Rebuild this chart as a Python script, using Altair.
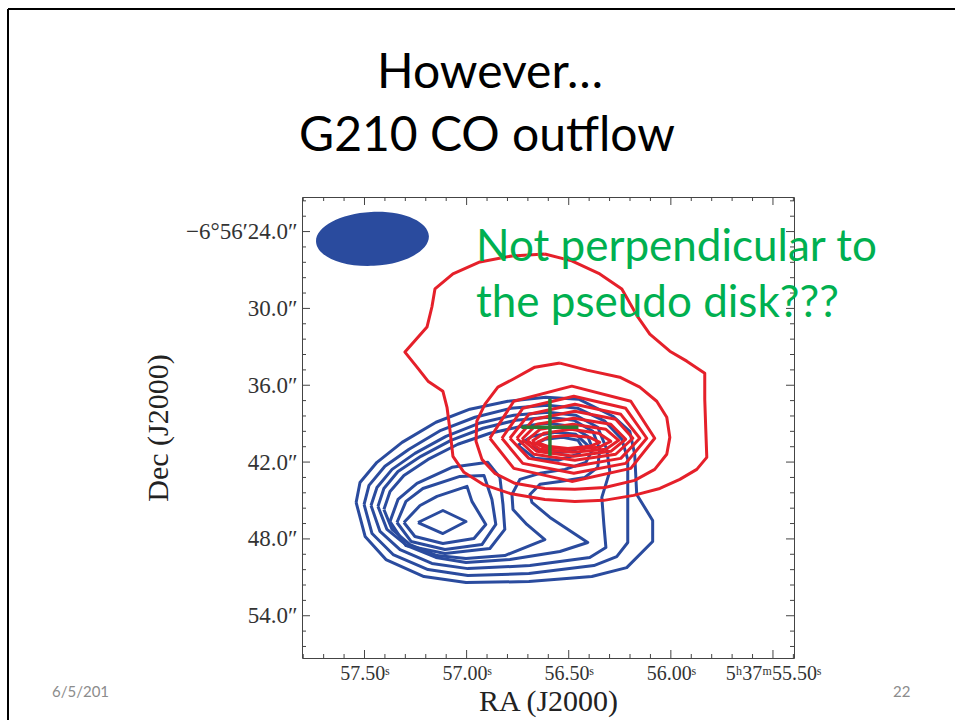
import altair as alt
import pandas as pd

# ---------------- contour vertices (RA: seconds of 5h37m, Dec: arcsec of -6d56m) ----------------
# red (redshifted) contours, outer -> inner
red_outer_ra = [56.617, 56.485, 56.348, 56.240, 56.162, 56.103, 56.005, 55.922, 55.834, 55.834, 55.829, 55.824,
                55.873, 55.956, 56.054, 56.182, 56.328, 56.470, 56.617, 56.788, 56.920, 57.013, 57.067, 57.082,
                57.096, 57.116, 57.189, 57.243, 57.302, 57.194, 57.170, 57.155, 57.067, 56.935, 56.778, 56.617]
red_outer_dec = [25.75, 26.29, 27.31, 28.48, 30.67, 32.00, 33.34, 34.12, 35.06, 37.09, 39.44, 41.63,
                 42.57, 43.35, 44.06, 44.60, 44.99, 45.07, 44.92, 44.45, 43.74, 42.80, 41.55, 39.44,
                 37.72, 36.47, 35.68, 34.59, 33.41, 31.46, 29.89, 28.48, 27.31, 26.37, 25.90, 25.75]
red_c2_ra = [56.543, 56.411, 56.250, 56.152, 56.069, 56.020, 56.005, 56.020, 56.079, 56.177, 56.323, 56.470,
             56.617, 56.764, 56.862, 56.925, 56.954, 56.950, 56.910, 56.847, 56.773, 56.666, 56.543]
red_c2_dec = [34.27, 34.82, 35.37, 36.15, 37.25, 38.50, 40.07, 41.39, 42.57, 43.43, 43.98, 44.13,
              44.06, 43.66, 42.88, 41.79, 40.38, 38.81, 37.48, 36.15, 35.53, 34.59, 34.27]
red_c3_ra = [56.886, 56.769, 56.485, 56.196, 56.079, 56.196, 56.485, 56.769, 56.886]
red_c3_dec = [40.14, 37.25, 36.07, 37.25, 40.14, 42.49, 43.51, 42.49, 40.14]
red_c4_ra = [56.827, 56.725, 56.475, 56.221, 56.118, 56.221, 56.475, 56.725, 56.827]
red_c4_dec = [40.14, 37.80, 36.86, 37.80, 40.14, 42.10, 42.88, 42.10, 40.14]
red_c5_ra = [56.788, 56.695, 56.470, 56.245, 56.152, 56.245, 56.470, 56.695, 56.788]
red_c5_dec = [40.14, 38.27, 37.48, 38.27, 40.14, 41.71, 42.33, 41.71, 40.14]
red_c6_ra = [56.754, 56.671, 56.470, 56.270, 56.186, 56.270, 56.470, 56.671, 56.754]
red_c6_dec = [40.14, 38.66, 38.03, 38.66, 40.14, 41.39, 41.86, 41.39, 40.14]
red_c7_ra = [56.729, 56.656, 56.475, 56.294, 56.221, 56.294, 56.475, 56.656, 56.729]
red_c7_dec = [40.22, 39.05, 38.58, 39.05, 40.22, 41.16, 41.55, 41.16, 40.22]
red_c8_ra = [56.705, 56.641, 56.480, 56.318, 56.255, 56.318, 56.480, 56.641, 56.705]
red_c8_dec = [40.30, 39.44, 39.05, 39.44, 40.30, 41.00, 41.24, 41.00, 40.30]
red_c9_ra = [56.680, 56.622, 56.490, 56.353, 56.294, 56.353, 56.490, 56.622, 56.680]
red_c9_dec = [40.38, 39.75, 39.44, 39.75, 40.38, 40.85, 41.00, 40.85, 40.38]
red_c10_ra = [56.656, 56.602, 56.504, 56.397, 56.348, 56.397, 56.504, 56.602, 56.656]
red_c10_dec = [40.46, 40.07, 39.91, 40.07, 40.46, 40.77, 40.93, 40.77, 40.46]

# blue (blueshifted) contours
blue_b1_ra = [57.541, 57.522, 57.439, 57.316, 57.150, 56.984, 56.798, 56.612, 56.451, 56.284, 56.201, 56.177,
              56.167, 56.089, 56.089, 56.216, 56.387, 56.695, 57.003, 57.209, 57.395, 57.497, 57.541]
blue_b1_dec = [45.15, 43.59, 42.02, 40.46, 38.89, 37.87, 37.25, 36.93, 37.09, 38.42, 39.60, 41.39,
               44.53, 46.56, 48.20, 50.24, 50.94, 51.33, 51.41, 50.94, 49.61, 47.81, 45.15]
blue_b2_ra = [57.502, 57.478, 57.400, 57.282, 57.126, 56.959, 56.783, 56.607, 56.455, 56.323, 56.240, 56.211,
              56.211, 56.211, 56.265, 56.377, 56.695, 56.994, 57.189, 57.360, 57.463, 57.502]
blue_b2_dec = [45.31, 43.82, 42.33, 41.00, 39.52, 38.50, 37.80, 37.56, 37.80, 38.81, 40.22, 41.79,
               44.92, 48.28, 49.38, 50.08, 50.71, 50.86, 50.39, 49.22, 47.58, 45.31]
blue_b3_ra = [57.468, 57.439, 57.365, 57.253, 57.101, 56.940, 56.769, 56.602, 56.465, 56.358, 56.314, 56.299,
              56.338, 56.328, 56.318, 56.397, 56.690, 56.994, 57.170, 57.326, 57.424, 57.468]
blue_b3_dec = [45.39, 43.98, 42.57, 41.32, 39.99, 38.97, 38.34, 38.11, 38.34, 39.28, 41.00, 42.73,
               44.76, 46.87, 48.67, 49.45, 50.08, 50.32, 49.92, 48.83, 47.42, 45.39]
blue_b4_ra = [57.434, 57.405, 57.336, 57.224, 57.077, 56.920, 56.759, 56.602, 56.475, 56.382, 56.348, 56.358,
              56.421, 56.543, 56.641, 56.690, 56.680, 56.592, 56.407, 56.543, 56.788, 57.003, 57.150, 57.292,
              57.390, 57.434]
blue_b4_dec = [45.46, 44.06, 42.73, 41.55, 40.30, 39.36, 38.73, 38.50, 38.73, 39.60, 41.00, 42.41,
               43.20, 43.51, 43.74, 44.53, 45.15, 46.32, 48.28, 48.98, 49.61, 49.85, 49.45, 48.52,
               47.26, 45.46]
blue_b5_ra = [57.405, 57.375, 57.307, 57.189, 57.043, 56.886, 56.729, 56.602, 56.490, 56.407, 56.382, 56.416,
              56.519, 56.641, 56.739, 56.778, 56.773, 56.705, 56.617, 56.813, 57.003, 57.145, 57.277, 57.365,
              57.405]
blue_b5_dec = [45.70, 44.29, 43.04, 41.79, 40.61, 39.75, 39.20, 38.97, 39.20, 39.99, 41.00, 42.02,
               42.57, 42.88, 43.35, 44.53, 45.70, 46.87, 48.05, 49.30, 49.53, 49.30, 48.44, 47.26,
               45.70]
blue_w4_ra = [57.375, 57.336, 57.243, 57.072, 56.896, 56.837, 56.822, 56.813, 56.886, 57.106, 57.297, 57.375]
blue_w4_dec = [46.64, 44.92, 43.66, 42.41, 42.02, 43.20, 45.31, 47.26, 48.75, 49.14, 48.52, 46.64]
blue_w3_ra = [57.341, 57.297, 57.214, 57.033, 56.915, 56.876, 56.857, 56.925, 57.106, 57.272, 57.341]
blue_w3_dec = [46.72, 45.07, 44.06, 43.12, 43.04, 44.92, 46.87, 48.44, 48.83, 48.20, 46.72]
blue_w2_ra = [57.307, 57.228, 57.145, 56.998, 56.974, 56.906, 56.964, 57.116, 57.253, 57.307]
blue_w2_dec = [46.72, 45.39, 44.68, 43.90, 45.07, 46.87, 47.97, 48.36, 47.81, 46.72]
blue_w1_ra = [57.238, 57.116, 57.003, 57.116, 57.238]
blue_w1_dec = [46.72, 45.78, 46.64, 47.58, 46.72]
blue_e2_ra = [56.749, 56.680, 56.563, 56.465, 56.407, 56.455, 56.553, 56.666, 56.749]
blue_e2_dec = [40.69, 39.99, 39.67, 39.83, 40.69, 41.39, 41.86, 41.71, 40.69]
blue_e1_ra = [56.680, 56.617, 56.529, 56.455, 56.436, 56.485, 56.568, 56.641, 56.680]
blue_e1_dec = [40.69, 40.22, 40.07, 40.30, 40.77, 41.16, 41.32, 41.16, 40.69]

# beam, source position, annotation
beam_ra = [57.461]
beam_dec = [24.57]
source_ra = [56.592]
source_dec = [39.28]
note_ra = [56.954, 56.954]
note_dec = [26.29, 30.67]
note_text = ["Not perpendicular to", "the pseudo disk???"]

# axis ticks
x_major = [57.5, 57.0, 56.5, 56.0, 55.5]
x_minor = [57.8, 57.7, 57.6, 57.4, 57.3, 57.2, 57.1, 56.9, 56.8, 56.7, 56.6, 56.4, 56.3, 56.2, 56.1,
           55.9, 55.8, 55.7, 55.6, 55.4]
y_major = [24, 30, 36, 42, 48, 54]
y_minor = [21.6, 22.8, 25.2, 26.4, 27.6, 28.8, 31.2, 32.4, 33.6, 34.8, 37.2, 38.4, 39.6, 40.8,
           43.2, 44.4, 45.6, 46.8, 49.2, 50.4, 51.6, 52.8, 55.2, 56.4]

red_contours = [(red_outer_ra, red_outer_dec), (red_c2_ra, red_c2_dec), (red_c3_ra, red_c3_dec),
                (red_c4_ra, red_c4_dec), (red_c5_ra, red_c5_dec), (red_c6_ra, red_c6_dec),
                (red_c7_ra, red_c7_dec), (red_c8_ra, red_c8_dec), (red_c9_ra, red_c9_dec),
                (red_c10_ra, red_c10_dec)]
blue_contours = [(blue_b1_ra, blue_b1_dec), (blue_b2_ra, blue_b2_dec), (blue_b3_ra, blue_b3_dec),
                 (blue_b4_ra, blue_b4_dec), (blue_b5_ra, blue_b5_dec), (blue_w4_ra, blue_w4_dec),
                 (blue_w3_ra, blue_w3_dec), (blue_w2_ra, blue_w2_dec), (blue_w1_ra, blue_w1_dec),
                 (blue_e2_ra, blue_e2_dec), (blue_e1_ra, blue_e1_dec)]


def contour_frame(contours, prefix):
    rows = []
    for k, (ras, decs) in enumerate(contours):
        for i, (r, d) in enumerate(zip(ras, decs)):
            rows.append({"cid": f"{prefix}{k}", "ra": r, "dec": d, "ord": i})
    return pd.DataFrame(rows)


red_df = contour_frame(red_contours, "r")
blue_df = contour_frame(blue_contours, "b")

RED = "#e5202a"
BLUE = "#2a4b9e"
GREEN = "#00b050"
DARKGREEN = "#2b7a34"
SERIF = "Liberation Serif"
SANS = "Lato"
W, H = 492, 461

xs = alt.Scale(domain=[55.397, 57.806], reverse=True, nice=False, zero=False)
ys = alt.Scale(domain=[21.3, 57.3], reverse=True, nice=False, zero=False)
xaxis = alt.Axis(values=x_major, ticks=False, domain=False, grid=False, labelFlush=False,
                 labelOverlap=False,
                 labelExpr="datum.value == 55.5 ? '5ʰ37ᵐ55.50ˢ' : format(datum.value, '.2f') + 'ˢ'",
                 labelFont=SERIF, labelFontSize=20, labelColor="#333", labelPadding=5,
                 titleFont=SERIF, titleFontSize=30, titleFontWeight="normal", titleColor="#222",
                 titlePadding=3)
yaxis = alt.Axis(values=y_major, ticks=False, domain=False, grid=False, labelFlush=False,
                 labelOverlap=False,
                 labelExpr="datum.value == 24 ? '−6°56′24.0″' : format(datum.value, '.1f') + '″'",
                 labelFont=SERIF, labelFontSize=23, labelColor="#333", labelPadding=5,
                 titleFont=SERIF, titleFontSize=30, titleFontWeight="normal", titleColor="#222",
                 titlePadding=12)
X = alt.X("ra:Q", scale=xs, axis=xaxis, title="RA (J2000)")
Y = alt.Y("dec:Q", scale=ys, axis=yaxis, title="Dec (J2000)")

one = pd.DataFrame({"k": [0]})

# slide decorations
border_top = alt.Chart(one).mark_rule(color="black", strokeWidth=2).encode(
    x=alt.value(-294), x2=alt.value(700), y=alt.value(-188))
border_left = alt.Chart(one).mark_rule(color="black", strokeWidth=2).encode(
    x=alt.value(-294), y=alt.value(-188), y2=alt.value(600))
title1 = alt.Chart(one).mark_text(font=SANS, fontSize=48, color="black", align="center",
                                  baseline="alphabetic").encode(
    x=alt.value(188), y=alt.value(-109), text=alt.value("However…"))
title2 = alt.Chart(one).mark_text(font=SANS, fontSize=48, color="black", align="center",
                                  baseline="alphabetic").encode(
    x=alt.value(185), y=alt.value(-46), text=alt.value("G210 CO outflow"))
foot1 = alt.Chart(one).mark_text(font=SANS, fontSize=15, color="#8c8c8c", align="left",
                                 baseline="alphabetic").encode(
    x=alt.value(-250), y=alt.value(500), text=alt.value("6/5/201"))
foot2 = alt.Chart(one).mark_text(font=SANS, fontSize=15, color="#8c8c8c", align="left",
                                 baseline="alphabetic").encode(
    x=alt.value(591), y=alt.value(500), text=alt.value("22"))

# inward ticks on all four sides
xmaj = pd.DataFrame({"ra": x_major})
xmin = pd.DataFrame({"ra": x_minor})
ymaj = pd.DataFrame({"dec": y_major})
ymin = pd.DataFrame({"dec": y_minor})
TC = "#444"
ticks = [
    alt.Chart(xmaj).mark_rule(color=TC).encode(x=X, y=alt.value(0), y2=alt.value(8)),
    alt.Chart(xmaj).mark_rule(color=TC).encode(x=X, y=alt.value(H), y2=alt.value(H - 8)),
    alt.Chart(xmin).mark_rule(color=TC).encode(x=X, y=alt.value(0), y2=alt.value(4)),
    alt.Chart(xmin).mark_rule(color=TC).encode(x=X, y=alt.value(H), y2=alt.value(H - 4)),
    alt.Chart(ymaj).mark_rule(color=TC).encode(y=Y, x=alt.value(0), x2=alt.value(8)),
    alt.Chart(ymaj).mark_rule(color=TC).encode(y=Y, x=alt.value(W), x2=alt.value(W - 8)),
    alt.Chart(ymin).mark_rule(color=TC).encode(y=Y, x=alt.value(0), x2=alt.value(4)),
    alt.Chart(ymin).mark_rule(color=TC).encode(y=Y, x=alt.value(W), x2=alt.value(W - 4)),
]

beam = alt.Chart(pd.DataFrame({"ra": beam_ra, "dec": beam_dec})).mark_point(
    shape="M -1 0 A 1 0.478 0 1 1 1 0 A 1 0.478 0 1 1 -1 0 Z",
    filled=True, color=BLUE, opacity=1, size=113 * 113, angle=357).encode(x=X, y=Y)

blue = alt.Chart(blue_df).mark_line(color=BLUE, strokeWidth=3, strokeJoin="round", clip=True).encode(
    x=X, y=Y, detail="cid:N", order="ord:Q")
red = alt.Chart(red_df).mark_line(color=RED, strokeWidth=3, strokeJoin="round", clip=True).encode(
    x=X, y=Y, detail="cid:N", order="ord:Q")

cross = alt.Chart(pd.DataFrame({"ra": source_ra, "dec": source_dec})).mark_point(
    shape="M -1 0 L 1 0 M 0 -1 L 0 1", filled=False, color=DARKGREEN, strokeWidth=3.5,
    opacity=1, size=57 * 57).encode(x=X, y=Y)

note = alt.Chart(pd.DataFrame({"ra": note_ra, "dec": note_dec, "txt": note_text})).mark_text(
    font=SANS, fontSize=44, color=GREEN, align="left", baseline="alphabetic").encode(
    x=X, y=Y, text="txt:N")

chart = alt.layer(
    border_top, border_left, title1, title2, foot1, foot2,
    *ticks, beam, blue, red, cross, note
).properties(
    width=W, height=H,
    autosize=alt.AutoSizeParams(type="none"),
    padding={"left": 302, "top": 197, "right": 161, "bottom": 62},
    background="white",
).configure_view(stroke="#444", strokeWidth=1)

chart.save("out.html", embed_options={"renderer": "svg", "actions": False})
